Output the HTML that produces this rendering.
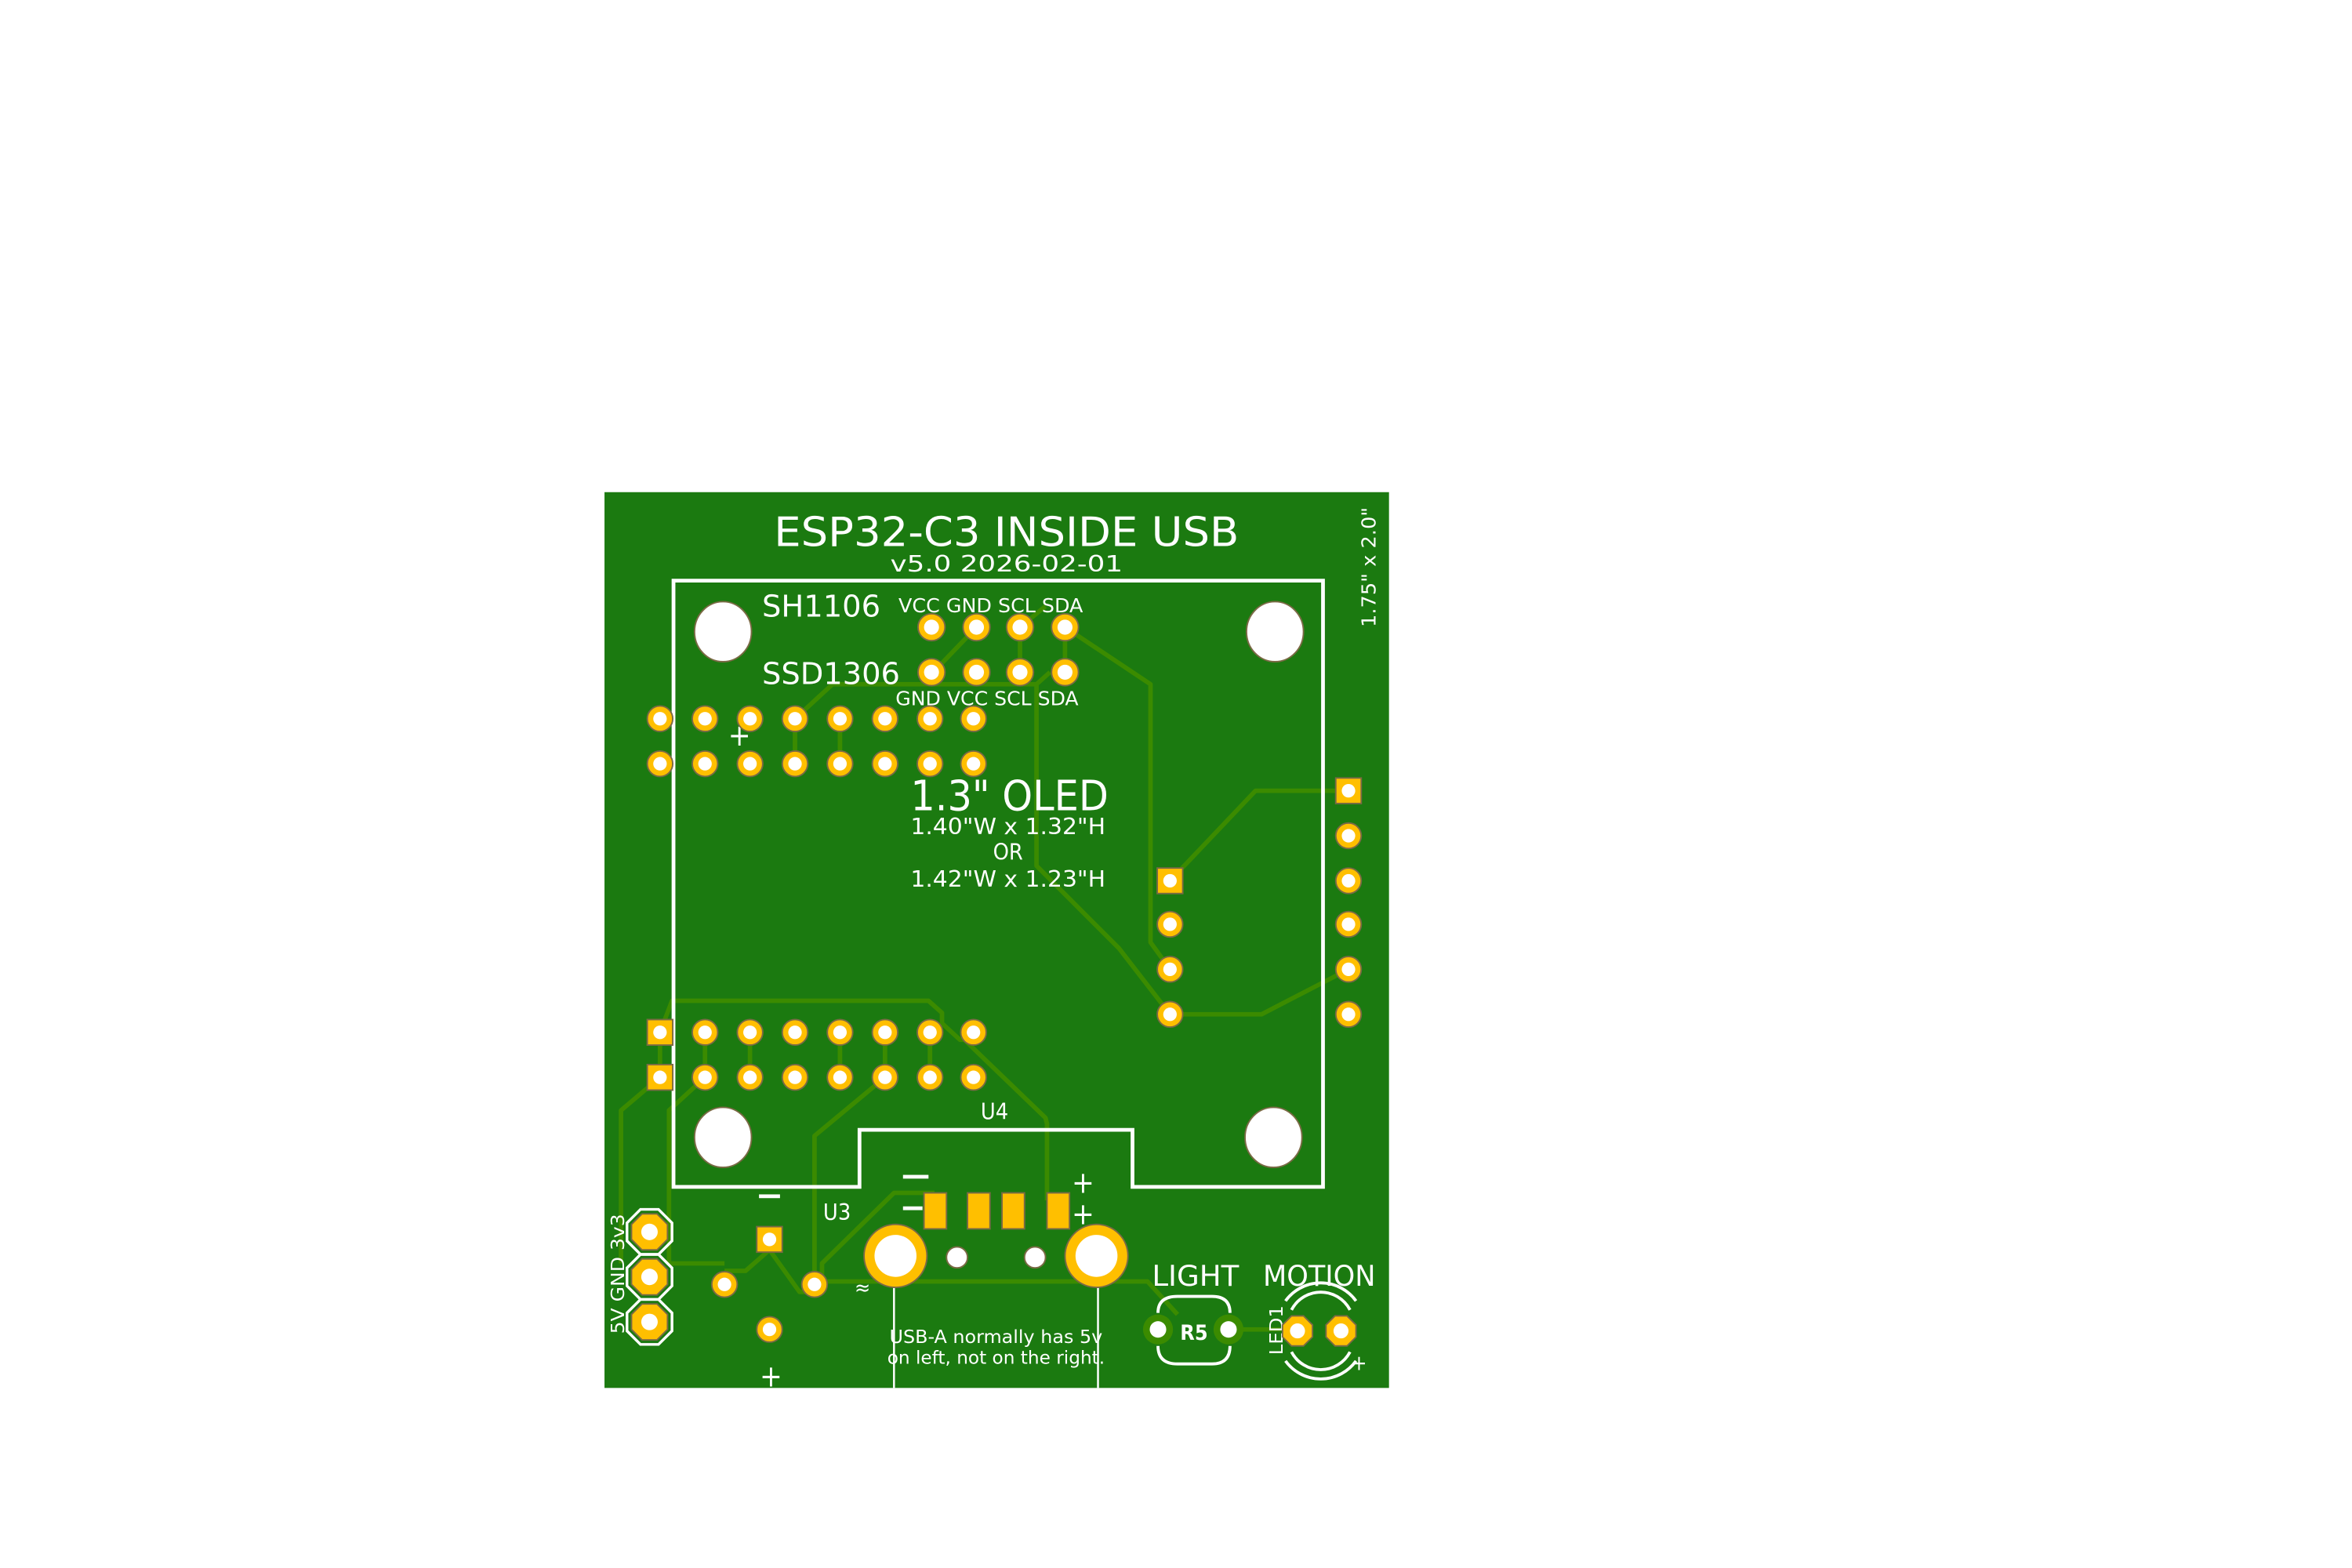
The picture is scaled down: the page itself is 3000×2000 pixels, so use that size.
<!DOCTYPE html>
<html><head><meta charset="utf-8"><style>
html,body{margin:0;padding:0;background:#fff;}
svg{display:block;}
text{font-family:"DejaVu Sans Condensed","Liberation Sans",sans-serif;fill:#fff;}
</style></head><body>
<svg width="3000" height="2000" viewBox="0 0 1568 1045" preserveAspectRatio="none" xmlns="http://www.w3.org/2000/svg">
<rect x="0" y="0" width="1568" height="1045" fill="#fff"/>
<rect x="403" y="328" width="523" height="597" fill="#1b7a10"/>
<!-- traces -->
<g stroke="#3b8b00" stroke-width="3" fill="none" stroke-linejoin="round">
<path d="M710,418 L767,456 L767,628 L780,646"/>
<path d="M530,479 L555,456 L691,456 L700,448"/>
<path d="M691,456 L691,577 L746,632 L780,676"/>
<path d="M680,418 V448 M710,418 V448 M651,418 L626,444 M680,418 L697,404"/>
<path d="M530,479 V509 M560,479 V509"/>
<path d="M899,527 H837 L780,587"/>
<path d="M899,646 L841,676 H780"/>
<path d="M440,688 L448,667 H619 L628,675 V682 L640,693 H643 L697,745 L698,749 V800"/>
<path d="M440,688 V718 M470,688 V718 M500,688 V718 M560,688 V718 M590,688 V718 M620,688 V718"/>
<path d="M440,718 L414,740 V842"/>
<path d="M470,718 L446,740 V842 H483"/>
<path d="M483,847 H497 L513,833 V826 M513,833 L533,861 H542 L545,856"/>
<path d="M590,718 L543,757 V856"/>
<path d="M543,856 L548,850 V842 L596,795 H623"/>
<path d="M548,850 V854 H765 L785,876 M826,886 H858"/>
</g>
<!-- silkscreen outline -->
<path d="M449,387 H882 V791 H755 V753 H573 V791 H449 Z" fill="none" stroke="#fff" stroke-width="2.5"/>
<g fill="#fff" stroke="#7a6a45" stroke-width="1">
<ellipse cx="482" cy="421" rx="19" ry="20"/><ellipse cx="850" cy="421" rx="19" ry="20"/>
<ellipse cx="482" cy="758" rx="19" ry="20"/><ellipse cx="849" cy="758" rx="19" ry="20"/>
</g>
<!-- text -->
<text x="671" y="364" font-size="27" text-anchor="middle" textLength="310" lengthAdjust="spacingAndGlyphs">ESP32-C3 INSIDE USB</text>
<text x="671" y="381" font-size="15" text-anchor="middle" textLength="155" lengthAdjust="spacingAndGlyphs">v5.0 2026-02-01</text>
<text transform="translate(917,418) rotate(-90)" font-size="13" textLength="80" lengthAdjust="spacingAndGlyphs">1.75" x 2.0"</text>
<text x="508" y="411" font-size="20" textLength="79" lengthAdjust="spacingAndGlyphs">SH1106</text>
<text x="599" y="408" font-size="13" textLength="123" lengthAdjust="spacingAndGlyphs">VCC GND SCL SDA</text>
<text x="508" y="456" font-size="20" textLength="92" lengthAdjust="spacingAndGlyphs">SSD1306</text>
<text x="597" y="470" font-size="13" textLength="122" lengthAdjust="spacingAndGlyphs">GND VCC SCL SDA</text>
<text x="493" y="497" font-size="20" text-anchor="middle">+</text>
<text x="607" y="540" font-size="28" textLength="132" lengthAdjust="spacingAndGlyphs">1.3" OLED</text>
<text x="607" y="556" font-size="15" textLength="130" lengthAdjust="spacingAndGlyphs">1.40"W x 1.32"H</text>
<text x="672" y="573" font-size="15" text-anchor="middle">OR</text>
<text x="607" y="591" font-size="15" textLength="130" lengthAdjust="spacingAndGlyphs">1.42"W x 1.23"H</text>
<text x="663" y="746" font-size="15" text-anchor="middle">U4</text>
<text x="558" y="813" font-size="15" text-anchor="middle">U3</text>
<rect x="602" y="783" width="17" height="2.5" fill="#fff"/>
<rect x="602" y="804" width="13" height="2.5" fill="#fff"/>
<rect x="506" y="796" width="14" height="2.5" fill="#fff"/>
<text x="722" y="795" font-size="20" text-anchor="middle">+</text>
<text x="722" y="816" font-size="20" text-anchor="middle">+</text>
<text x="514" y="924" font-size="20" text-anchor="middle">+</text>
<text x="575" y="863" font-size="14" text-anchor="middle">≈</text>
<line x1="596" y1="858" x2="596" y2="925" stroke="#fff" stroke-width="1.3"/>
<line x1="732" y1="858" x2="732" y2="925" stroke="#fff" stroke-width="1.3"/>
<text x="664" y="895" font-size="12" text-anchor="middle" textLength="142" lengthAdjust="spacingAndGlyphs">USB-A normally has 5v</text>
<text x="664" y="909" font-size="12" text-anchor="middle" textLength="145" lengthAdjust="spacingAndGlyphs">on left, not on the right.</text>
<text transform="translate(416,889) rotate(-90)" font-size="12" textLength="80" lengthAdjust="spacingAndGlyphs">5V  GND  3v3</text>
<text x="768" y="857" font-size="19" textLength="58" lengthAdjust="spacingAndGlyphs">LIGHT</text>
<text x="842" y="857" font-size="19" textLength="75" lengthAdjust="spacingAndGlyphs">MOTION</text>
<text x="796" y="893" font-size="14" font-weight="bold" text-anchor="middle" font-family="DejaVu Sans">R5</text>
<text transform="translate(855,903) rotate(-90)" font-size="12" textLength="33" lengthAdjust="spacingAndGlyphs">LED1</text>
<text x="906" y="913" font-size="14" text-anchor="middle">+</text>
<g fill="none" stroke="#fff" stroke-width="2">
<path d="M772,875 Q772,864 785,864 H808 Q820,864 820,875"/>
<path d="M772,897 Q772,909 785,909 H808 Q820,909 820,897"/>
<path d="M861,873 A22,22 0 0 1 900,873"/><path d="M861,901 A22,22 0 0 0 900,901"/>
<path d="M857,867 A29,29 0 0 1 904,867"/><path d="M857,907 A29,29 0 0 0 904,907"/>
</g>
<g fill="none" stroke="#fff" stroke-width="1.8">
<polygon points="427,806 439,806 448,815 448,827 439,836 427,836 418,827 418,815"/>
<polygon points="427,836 439,836 448,845 448,857 439,866 427,866 418,857 418,845"/>
<polygon points="427,866 439,866 448,875 448,887 439,896 427,896 418,887 418,875"/>
</g>
<g fill="#ffbf00" stroke="#7a6a45" stroke-width="1">
<circle cx="621" cy="418" r="9"/><circle cx="651" cy="418" r="9"/><circle cx="680" cy="418" r="9"/><circle cx="710" cy="418" r="9"/>
<circle cx="621" cy="448" r="9"/><circle cx="651" cy="448" r="9"/><circle cx="680" cy="448" r="9"/><circle cx="710" cy="448" r="9"/>
<circle cx="440" cy="479" r="8.5"/><circle cx="470" cy="479" r="8.5"/><circle cx="500" cy="479" r="8.5"/><circle cx="530" cy="479" r="8.5"/><circle cx="560" cy="479" r="8.5"/><circle cx="590" cy="479" r="8.5"/><circle cx="620" cy="479" r="8.5"/><circle cx="649" cy="479" r="8.5"/>
<circle cx="440" cy="509" r="8.5"/><circle cx="470" cy="509" r="8.5"/><circle cx="500" cy="509" r="8.5"/><circle cx="530" cy="509" r="8.5"/><circle cx="560" cy="509" r="8.5"/><circle cx="590" cy="509" r="8.5"/><circle cx="620" cy="509" r="8.5"/><circle cx="649" cy="509" r="8.5"/>
<rect x="431.5" y="679.5" width="17" height="17"/><circle cx="470" cy="688" r="8.5"/><circle cx="500" cy="688" r="8.5"/><circle cx="530" cy="688" r="8.5"/><circle cx="560" cy="688" r="8.5"/><circle cx="590" cy="688" r="8.5"/><circle cx="620" cy="688" r="8.5"/><circle cx="649" cy="688" r="8.5"/>
<rect x="431.5" y="709.5" width="17" height="17"/><circle cx="470" cy="718" r="8.5"/><circle cx="500" cy="718" r="8.5"/><circle cx="530" cy="718" r="8.5"/><circle cx="560" cy="718" r="8.5"/><circle cx="590" cy="718" r="8.5"/><circle cx="620" cy="718" r="8.5"/><circle cx="649" cy="718" r="8.5"/>
<rect x="890.5" y="518.5" width="17" height="17"/><circle cx="899" cy="557" r="8.5"/><circle cx="899" cy="587" r="8.5"/><circle cx="899" cy="616" r="8.5"/><circle cx="899" cy="646" r="8.5"/><circle cx="899" cy="676" r="8.5"/>
<rect x="771.5" y="578.5" width="17" height="17"/><circle cx="780" cy="616" r="8.5"/><circle cx="780" cy="646" r="8.5"/><circle cx="780" cy="676" r="8.5"/>
<rect x="504.5" y="817.5" width="17" height="17"/><circle cx="483" cy="856" r="8.5"/><circle cx="543" cy="856" r="8.5"/><circle cx="513" cy="886" r="8.5"/>
<polygon points="428,809 438,809 445,816 445,826 438,833 428,833 421,826 421,816"/>
<polygon points="428,839 438,839 445,846 445,856 438,863 428,863 421,856 421,846"/>
<polygon points="428,869 438,869 445,876 445,886 438,893 428,893 421,886 421,876"/>
<polygon points="861,877 869,877 875,883 875,891 869,897 861,897 855,891 855,883"/>
<polygon points="890,877 898,877 904,883 904,891 898,897 890,897 884,891 884,883"/>
<rect x="616" y="795" width="15" height="24"/><rect x="645" y="795" width="15" height="24"/><rect x="668" y="795" width="15" height="24"/><rect x="698" y="795" width="15" height="24"/>
<circle cx="597" cy="837" r="21"/><circle cx="731" cy="837" r="21"/>
</g>
<g fill="#3b8b00"><circle cx="772" cy="886" r="10"/><circle cx="819" cy="886" r="10"/></g>
<g fill="#fff">
<circle cx="621" cy="418" r="5"/><circle cx="651" cy="418" r="5"/><circle cx="680" cy="418" r="5"/><circle cx="710" cy="418" r="5"/>
<circle cx="621" cy="448" r="5"/><circle cx="651" cy="448" r="5"/><circle cx="680" cy="448" r="5"/><circle cx="710" cy="448" r="5"/>
<circle cx="440" cy="479" r="4.5"/><circle cx="470" cy="479" r="4.5"/><circle cx="500" cy="479" r="4.5"/><circle cx="530" cy="479" r="4.5"/><circle cx="560" cy="479" r="4.5"/><circle cx="590" cy="479" r="4.5"/><circle cx="620" cy="479" r="4.5"/><circle cx="649" cy="479" r="4.5"/>
<circle cx="440" cy="509" r="4.5"/><circle cx="470" cy="509" r="4.5"/><circle cx="500" cy="509" r="4.5"/><circle cx="530" cy="509" r="4.5"/><circle cx="560" cy="509" r="4.5"/><circle cx="590" cy="509" r="4.5"/><circle cx="620" cy="509" r="4.5"/><circle cx="649" cy="509" r="4.5"/>
<circle cx="440" cy="688" r="4.5"/><circle cx="470" cy="688" r="4.5"/><circle cx="500" cy="688" r="4.5"/><circle cx="530" cy="688" r="4.5"/><circle cx="560" cy="688" r="4.5"/><circle cx="590" cy="688" r="4.5"/><circle cx="620" cy="688" r="4.5"/><circle cx="649" cy="688" r="4.5"/>
<circle cx="440" cy="718" r="4.5"/><circle cx="470" cy="718" r="4.5"/><circle cx="500" cy="718" r="4.5"/><circle cx="530" cy="718" r="4.5"/><circle cx="560" cy="718" r="4.5"/><circle cx="590" cy="718" r="4.5"/><circle cx="620" cy="718" r="4.5"/><circle cx="649" cy="718" r="4.5"/>
<circle cx="899" cy="527" r="4.5"/><circle cx="899" cy="557" r="4.5"/><circle cx="899" cy="587" r="4.5"/><circle cx="899" cy="616" r="4.5"/><circle cx="899" cy="646" r="4.5"/><circle cx="899" cy="676" r="4.5"/>
<circle cx="780" cy="587" r="4.5"/><circle cx="780" cy="616" r="4.5"/><circle cx="780" cy="646" r="4.5"/><circle cx="780" cy="676" r="4.5"/>
<circle cx="513" cy="826" r="4.5"/><circle cx="483" cy="856" r="4.5"/><circle cx="543" cy="856" r="4.5"/><circle cx="513" cy="886" r="4.5"/>
<circle cx="433" cy="821" r="5.5"/><circle cx="433" cy="851" r="5.5"/><circle cx="433" cy="881" r="5.5"/>
<circle cx="865" cy="887" r="5"/><circle cx="894" cy="887" r="5"/>
<circle cx="772" cy="886" r="5.5"/><circle cx="819" cy="886" r="5.5"/>
<circle cx="597" cy="837" r="14"/><circle cx="731" cy="837" r="14"/>
</g>
<g fill="#fff" stroke="#7a6a45" stroke-width="1"><circle cx="638" cy="838" r="7"/><circle cx="690" cy="838" r="7"/></g>
</svg>
</body></html>
